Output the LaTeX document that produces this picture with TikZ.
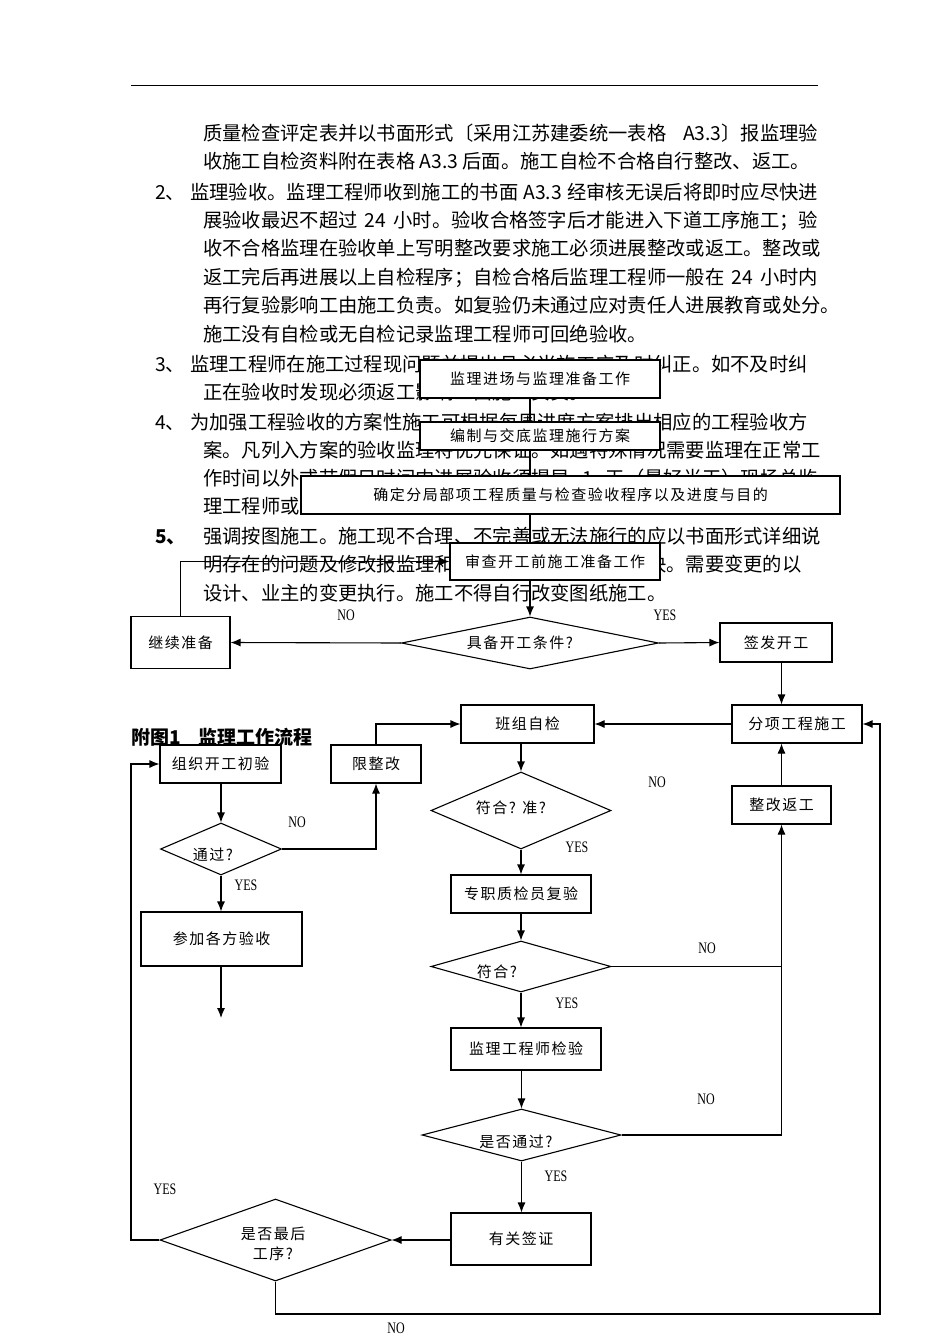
\documentclass[tikz,border=0pt]{standalone}
\usepackage{fontspec}
\usetikzlibrary{shapes.geometric,arrows.meta}
\setmainfont{Noto Sans CJK SC}
\newfontfamily\boxfam[LetterSpace=10]{Noto Sans CJK SC}
\newfontfamily\labfam[FakeStretch=0.75]{Liberation Serif}
\newcommand\bodyf{\fontsize{19.3}{22}\selectfont}
\newcommand\bxf{\boxfam\fontsize{15}{17}\selectfont}
\newcommand\labf{\labfam\fontsize{16}{18}\selectfont}
\newcommand\titlef{\bfseries\fontsize{19}{22}\selectfont}
\XeTeXlinebreaklocale "zh"
\XeTeXlinebreakskip=0pt plus 3pt minus 1pt
\tikzset{
  bx/.style={draw, line width=1.1pt, fill=white, inner sep=0pt, font=\bxf},
  dm/.style={draw, diamond, line width=1.1pt, fill=white, inner sep=0pt},
  ln/.style={line width=1.1pt},
  ar/.style={line width=1.1pt, -{Latex[length=10pt,width=8pt]}},
  lab/.style={font=\labf, inner sep=0pt},
  dtxt/.style={font=\bxf, inner sep=0pt},
  body/.style={anchor=base west, inner sep=0pt, font=\bodyf},
}
\begin{document}
\begin{tikzpicture}[x=1pt,y=-1pt]
\path[use as bounding box, fill=white] (0,0) rectangle (950,1344);
% top rule
\coordinate (r1) at (131,85);
\coordinate (r2) at (818,85);
\draw[line width=1pt] (r1) -- (r2);
% body text
\node[body] (t1) at (203,140) {\hbox to 615pt{质量检查评定表并以书面形式〔采用江苏建委统一表格 A3.3〕报监理验}};
\node[body] (t2) at (203,168) {收施工自检资料附在表格 A3.3 后面。施工自检不合格自行整改、返工。};
\node[body] (n2) at (155,199) {2、};
\node[body] (t3) at (190,199) {\hbox to 628pt{监理验收。监理工程师收到施工的书面 A3.3 经审核无误后将即时应尽快进}};
\node[body] (t4) at (203,227) {\hbox to 615pt{展验收最迟不超过 24 小时。验收合格签字后才能进入下道工序施工；验}};
\node[body] (t5) at (203,255) {\hbox to 615pt{收不合格监理在验收单上写明整改要求施工必须进展整改或返工。整改或}};
\node[body] (t6) at (203,284) {\hbox to 615pt{返工完后再进展以上自检程序；自检合格后监理工程师一般在 24 小时内}};
\node[body] (t7) at (203,312) {再行复验影响工由施工负责。如复验仍未通过应对责任人进展教育或处分。};
\node[body] (t8) at (203,341) {施工没有自检或无自检记录监理工程师可回绝验收。};
\node[body] (n3) at (155,371) {3、};
\node[body] (t9) at (190,371) {\hbox to 628pt{监理工程师在施工过程现问题并提出且必当施工应及时纠正。如不及时纠}};
\node[body] (t10) at (203,399) {正在验收时发现必须返工影响工由施工负责。};
\node[body] (n4) at (155,429) {4、};
\node[body] (t11) at (190,429) {\hbox to 628pt{为加强工程验收的方案性施工可根据每周进度方案排出相应的工程验收方}};
\node[body] (t12) at (203,457) {\hbox to 615pt{案。凡列入方案的验收监理将优先保证。如遇特殊情况需要监理在正常工}};
\node[body] (t13) at (203,485) {\hbox to 615pt{作时间以外或节假日时间内进展验收须提早 1 天（最好半天）现场总监}};
\node[body] (t14) at (203,513) {理工程师或专业监理工程师同意。};
\node[body, font=\titlef] (n5) at (155,543) {5、};
\node[body] (t15) at (203,543) {\hbox to 615pt{强调按图施工。施工现不合理、不完善或无法施行的应以书面形式详细说}};
\node[body] (t16) at (203,571) {\hbox to 615pt{明存在的问题及修改报监理和设计单位，共同研究解决。需要变更的以}};
\node[body] (t17) at (203,600) {设计、业主的变更执行。施工不得自行改变图纸施工。};

% top column
\node[bx, minimum width=240pt, minimum height=38pt] (A) at (540,379) {监理进场与监理准备工作};
\node[bx, minimum width=240pt, minimum height=28pt] (B) at (540,436) {编制与交底监理施行方案};
\node[bx, minimum width=539pt, minimum height=38pt] (C) at (570.5,495) {确定分局部项工程质量与检查验收程序以及进度与目的};
\node[bx, minimum width=210pt, minimum height=37pt] (D) at (555,561.5) {审查开工前施工准备工作};
\node[dm, minimum width=257pt, minimum height=52pt] (d1) at (530,643) {};
\node[dtxt] (d1t) at (520,643) {具备开工条件?};
\node[bx, minimum width=99pt, minimum height=52pt] (jx) at (180.5,642.5) {继续准备};
\node[bx, minimum width=112pt, minimum height=39pt] (qf) at (776,642.5) {签发开工};
\coordinate (tr) at (530,0);

% middle
\node[bx, minimum width=130pt, minimum height=38pt] (fx) at (797,724) {分项工程施工};
\node[bx, minimum width=133pt, minimum height=38pt] (bz) at (527.5,724) {班组自检};
\node[bx, minimum width=99pt, minimum height=38pt] (zg) at (781.5,805) {整改返工};
\node[bx, minimum width=90pt, minimum height=38pt] (xz) at (376,764) {限整改};
\node[bx, minimum width=121pt, minimum height=38pt] (zz) at (220.5,764) {组织开工初验};
\node[dm, minimum width=121pt, minimum height=52pt] (tg) at (221,849) {};
\node[dtxt] (tgt) at (213,855) {通过?};
\node[bx, minimum width=161pt, minimum height=54pt] (cj) at (221.5,939) {参加各方验收};
\coordinate (cjend) at (221,1018);

% right/center column
\node[dm, minimum width=180pt, minimum height=77pt] (f1) at (521,810.5) {};
\node[dtxt] (f1t) at (511,808) {符合? 准?};
\node[bx, minimum width=140pt, minimum height=38pt] (zj) at (521,894) {专职质检员复验};
\node[dm, minimum width=180pt, minimum height=51pt] (f2) at (521,966.5) {};
\node[dtxt] (f2t) at (497,972) {符合?};
\node[bx, minimum width=150pt, minimum height=42pt] (jl) at (526,1049) {监理工程师检验};
\node[dm, minimum width=199pt, minimum height=52pt] (sf) at (521.5,1135) {};
\node[dtxt] (sft) at (516,1142) {是否通过?};
\node[bx, minimum width=140pt, minimum height=52pt] (yg) at (521,1239) {有关签证};
\node[dm, minimum width=231pt, minimum height=82pt] (zh) at (275.5,1240) {};
\node[dtxt, align=center] (zht) at (273,1244) {是否最后\\[3pt]工序?};

\coordinate (L) at (131,0);
\coordinate (R) at (880,0);
\coordinate (bot) at (0,1314);

% connectors top
\draw[ln] (A.south -| tr) -- (B.north -| tr);
\draw[ln] (B.south -| tr) -- (C.north -| tr);
\draw[ln] (C.south -| tr) -- (D.north -| tr);
\draw[ar] (D.south -| tr) -- (d1.north);
\draw[ar] (d1.west) -- (jx.east);
\draw[ar] (d1.east) -- (qf.west);
\draw[ar] (jx.north) -- (jx.north |- D.west) -- (D.west);
\draw[ar] (qf.south -| zg.north) -- (fx.north -| zg.north);
\draw[ar] (fx.west) -- (bz.east);
\draw[ar] (xz.north) -- (xz.north |- bz.west) -- (bz.west);
\draw[ar] (zz.south -| tg.north) -- (tg.north);
\draw[ar] (tg.east) -- (tg.east -| xz.south) -- (xz.south);
\draw[ar] (tg.south) -- (cj.north -| tg.south);
\draw[ar] (cj.south -| cjend) -- (cjend);
\draw[ar] (bz.south -| f1.north) -- (f1.north);
\draw[ar] (f1.south) -- (zj.north -| f1.south);
\draw[ar] (zj.south -| f2.north) -- (f2.north);
\draw[ar] (f2.south) -- (jl.north -| f2.south);
\draw[ar] (jl.south -| sf.north) -- (sf.north);
\draw[ar] (sf.south) -- (yg.north -| sf.south);
\draw[ar] (yg.west |- zh.east) -- (zh.east);
\draw[ln] (f2.east) -- (f2.east -| zg.south);
\draw[ar] (sf.east) -- (sf.east -| zg.south) -- (zg.south);
\draw[ar] (zg.north) -- (fx.south -| zg.north);
\draw[ar] (zh.west) -- (zh.west -| L) -- (zz.west -| L) -- (zz.west);
\draw[ar] (zh.south) -- (zh.south |- bot) -- (bot -| R) -- (fx.east -| R) -- (fx.east);

% labels
\node[lab] (l1) at (346,615) {NO};
\node[lab] (l2) at (665,615) {YES};
\node[lab] (l3) at (297,822) {NO};
\node[lab] (l4) at (246,885) {YES};
\node[lab] (l5) at (657,782) {NO};
\node[lab] (l6) at (577,847) {YES};
\node[lab] (l7) at (707,948) {NO};
\node[lab] (l8) at (567,1003) {YES};
\node[lab] (l9) at (706,1099) {NO};
\node[lab] (l10) at (556,1176) {YES};
\node[lab] (l11) at (165,1189) {YES};
\node[lab] (l12) at (396,1328) {NO};

% title
\node[anchor=west, inner sep=0pt, font=\titlef] (title) at (131,737) {附图1\hspace{18pt}监理工作流程};
\end{tikzpicture}
\end{document}
